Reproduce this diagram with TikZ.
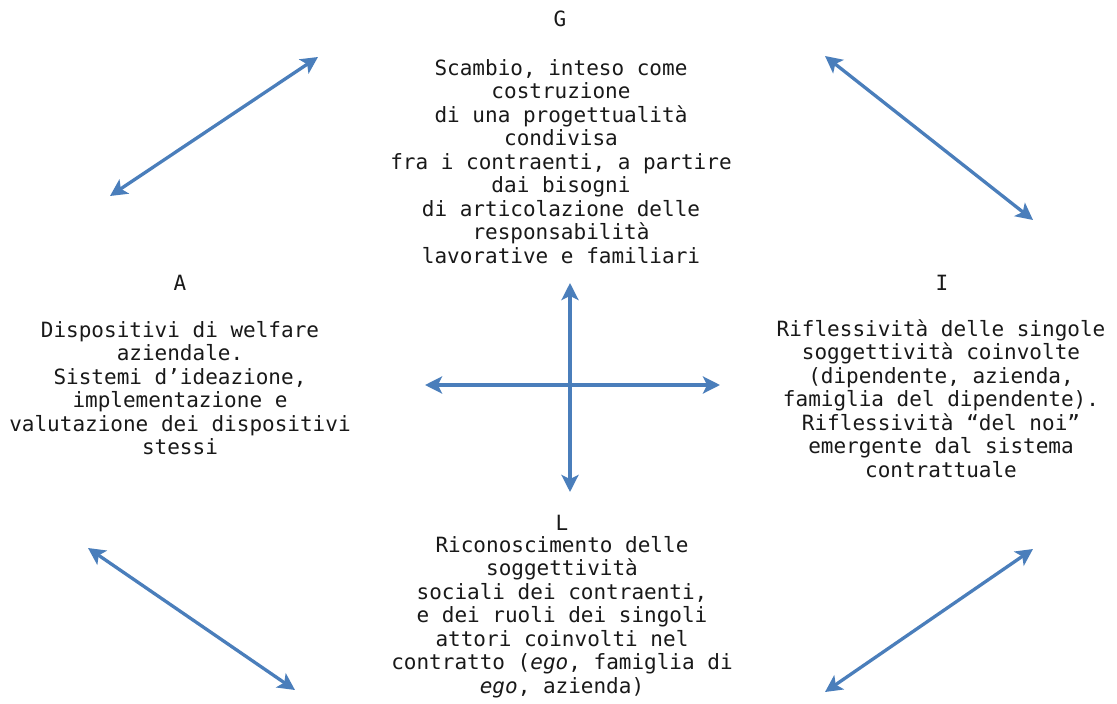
\documentclass[tikz,border=0pt]{standalone}
\usepackage{fontspec}
\newfontfamily\monofam[ItalicFont={DejaVu Sans Mono Oblique}]{DejaVu Sans Mono}
\usetikzlibrary{arrows.meta}
\definecolor{arrowblue}{RGB}{74,126,187}
\definecolor{txt}{RGB}{25,25,25}
\tikzset{
  blocktext/.style={anchor=north, inner sep=0pt, align=center, text=txt,
    font=\monofam\fontsize{21}{23.5}\selectfont},
  lettertext/.style={anchor=base, inner sep=0pt, text=txt,
    font=\monofam\fontsize{21}{23.5}\selectfont},
  dblarrow/.style={arrowblue, line width=3.3pt,
    {Stealth[length=17pt,width=17pt,inset=4pt]}-{Stealth[length=17pt,width=17pt,inset=4pt]}}
}
\begin{document}
\begin{tikzpicture}[x=1pt,y=-1pt]
\useasboundingbox[fill=white] (0,0) rectangle (1117,704);

% letters
\node[lettertext] (Gl) at (560,27) {G};
\node[lettertext] (Al) at (180,290) {A};
\node[lettertext] (Il) at (942,290) {I};
\node[lettertext] (Ll) at (562,530) {L};

% text blocks
\node[blocktext] (G) at (561,59) {Scambio, inteso come\\costruzione\\di una progettualità\\condivisa\\fra i contraenti, a partire\\dai bisogni\\di articolazione delle\\responsabilità\\lavorative e familiari};
\node[blocktext] (A) at (180,321) {Dispositivi di welfare\\aziendale.\\Sistemi d’ideazione,\\implementazione e\\valutazione dei dispositivi\\stessi};
\node[blocktext] (I) at (941,319) {Riflessività delle singole\\soggettività coinvolte\\(dipendente, azienda,\\famiglia del dipendente).\\Riflessività “del noi”\\emergente dal sistema\\contrattuale};
\node[blocktext] (L) at (562,536) {Riconoscimento delle\\soggettività\\sociali dei contraenti,\\e dei ruoli dei singoli\\attori coinvolti nel\\contratto (\textit{ego}, famiglia di\\\textit{ego}, azienda)};

% arrow end points
\coordinate (tl1) at (110,196);
\coordinate (tl2) at (318,57);
\coordinate (tr1) at (825,56);
\coordinate (tr2) at (1033,220);
\coordinate (bl1) at (88,548);
\coordinate (bl2) at (295,690);
\coordinate (br1) at (1033,549);
\coordinate (br2) at (825,692);
\coordinate (vt) at (570,283);
\coordinate (vb) at (570,492);
\coordinate (hl) at (425,385);
\coordinate (hr) at (720,385);

\draw[dblarrow] (tl1) -- (tl2);
\draw[dblarrow] (tr1) -- (tr2);
\draw[dblarrow] (bl1) -- (bl2);
\draw[dblarrow] (br1) -- (br2);
\draw[dblarrow] (vt) -- (vb);
\draw[dblarrow] (hl) -- (hr);
\end{tikzpicture}
\end{document}
